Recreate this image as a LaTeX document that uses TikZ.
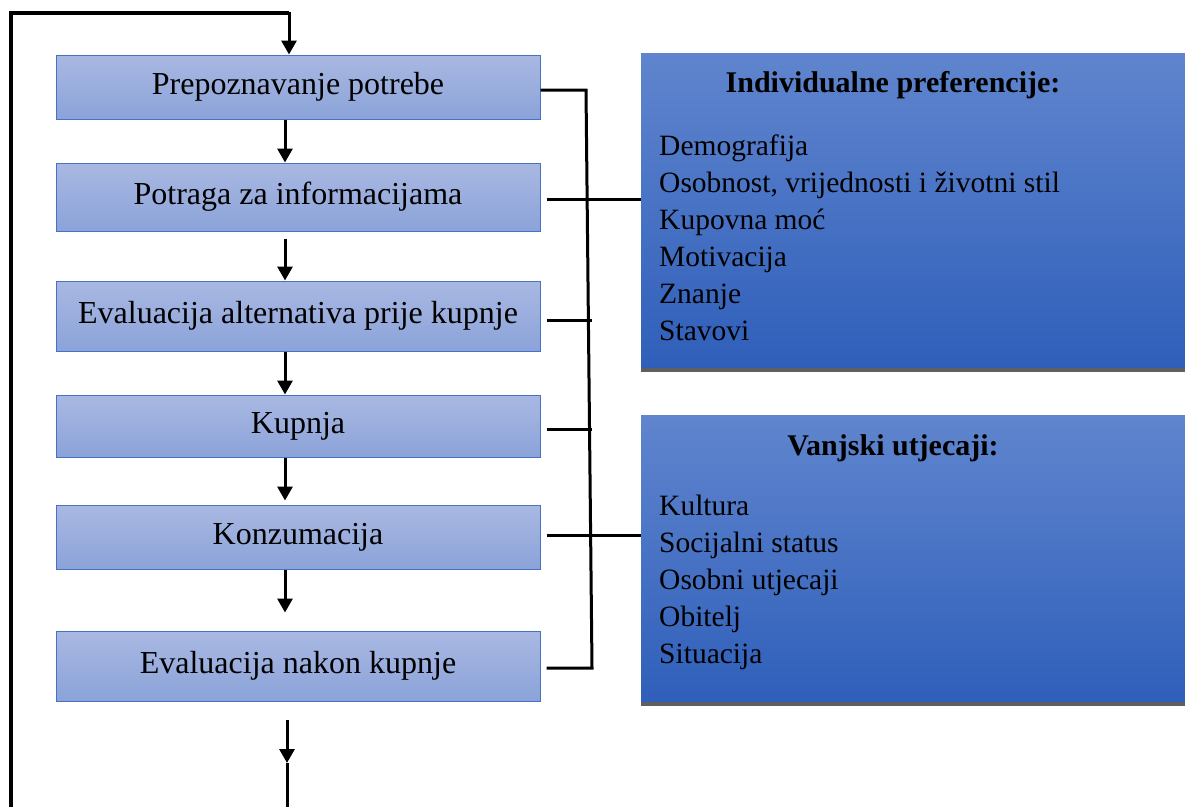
\documentclass[tikz,border=0pt]{standalone}
\usepackage{fontspec}
\setmainfont{Liberation Serif}
\usetikzlibrary{arrows.meta,calc}
\definecolor{lbTop}{HTML}{A9B8E2}
\definecolor{lbBot}{HTML}{8BA3D9}
\definecolor{lbEdge}{HTML}{4472C4}
\definecolor{rbTop}{HTML}{6085CE}
\definecolor{rbBot}{HTML}{2F5FBA}
\definecolor{shadowgray}{HTML}{5F5F5F}
\begin{document}
\begin{tikzpicture}[x=1pt,y=-1pt,
  stagebox/.style={rectangle, draw=lbEdge, line width=1pt, top color=lbTop, bottom color=lbBot,
    minimum width=484pt, inner sep=0pt, font=\fontsize{32}{38}\selectfont},
  infobox/.style={rectangle, top color=rbTop, bottom color=rbBot, minimum width=544pt, inner sep=0pt},
  conn/.style={line width=3pt, black},
  flow/.style={line width=3pt, black, -{Triangle[length=14pt,width=15pt]}},
  titletext/.style={anchor=base, font=\fontsize{30}{36}\selectfont\bfseries},
  listtext/.style={anchor=base west, inner sep=0pt, font=\fontsize{29.5}{36}\selectfont}]
\useasboundingbox (0,0) rectangle (1185,807);

% stage boxes
\node[stagebox, minimum height=64pt] (b1) at (298,87) {Prepoznavanje potrebe};
\node[stagebox, minimum height=68pt] (b2) at (298,197) {Potraga za informacijama};
\node[stagebox, minimum height=70pt] (b3) at (298,316) {Evaluacija alternativa prije kupnje};
\node[stagebox, minimum height=62pt] (b4) at (298,426) {Kupnja};
\node[stagebox, minimum height=64pt] (b5) at (298,537) {Konzumacija};
\node[stagebox, minimum height=70pt] (b6) at (298,666) {Evaluacija nakon kupnje};

% info boxes
\node[infobox, minimum height=315pt] (pref) at (913,210.5) {};
\fill[shadowgray] (pref.south west) rectangle ([yshift=-4pt]pref.south east);
\node[titletext] (preft) at (893,92) {Individualne preferencije:};
\foreach \t [count=\i] in {Demografija, {Osobnost, vrijednosti i životni stil}, Kupovna moć, Motivacija, Znanje, Stavovi}
  \node[listtext] (pl\i) at (659,{155+37*(\i-1)}) {\t};

\node[infobox, minimum height=287pt] (ext) at (913,558.5) {};
\fill[shadowgray] (ext.south west) rectangle ([yshift=-4pt]ext.south east);
\node[titletext] (extt) at (893,455) {Vanjski utjecaji:};
\foreach \t [count=\i] in {Kultura, Socijalni status, Osobni utjecaji, Obitelj, Situacija}
  \node[listtext] (el\i) at (659,{515+37*(\i-1)}) {\t};

% feedback loop
\coordinate (loopBL) at (11,807);
\coordinate (loopTL) at (11,13);
\coordinate (loopTR) at (289,13);
\draw[conn, line width=3.5pt] (loopBL) -- (loopTL) -- (loopTR);
\draw[flow] ([yshift=1.5pt]loopTR) -- (loopTR |- b1.north);

% flow arrows
\coordinate (ax) at (285,0);
\draw[flow] (b1.south -| ax) -- (b2.north -| ax);
\draw[flow] ([yshift=-7pt]b2.south -| ax) -- (b3.north -| ax);
\draw[flow] (b3.south -| ax) -- (b4.north -| ax);
\draw[flow] (b4.south -| ax) -- ([yshift=4pt]b5.north -| ax);
\draw[flow] (b5.south -| ax) -- ([yshift=18pt]b6.north -| ax);
\coordinate (bs) at (287,720);
\coordinate (bm) at (287,763);
\coordinate (be) at (287,807);
\draw[flow] (bs) -- (bm);
\draw[conn] (bm) -- (be);

% right connector
\coordinate (vt) at (586,90);
\coordinate (vb) at (592,668);
\draw[conn] (b1.east |- vt) -- (vt) -- (vb) -- ([xshift=6pt]b6.east |- vb);
\draw[conn] ([xshift=6pt]b2.east |- 0,199) -- (pref.west |- 0,199);
\draw[conn] ([xshift=6pt]b3.east |- 0,320) -- (592,320);
\draw[conn] ([xshift=6pt]b4.east |- 0,429) -- (592,429);
\draw[conn] ([xshift=6pt]b5.east |- 0,535) -- (ext.west |- 0,535);
\end{tikzpicture}
\end{document}
